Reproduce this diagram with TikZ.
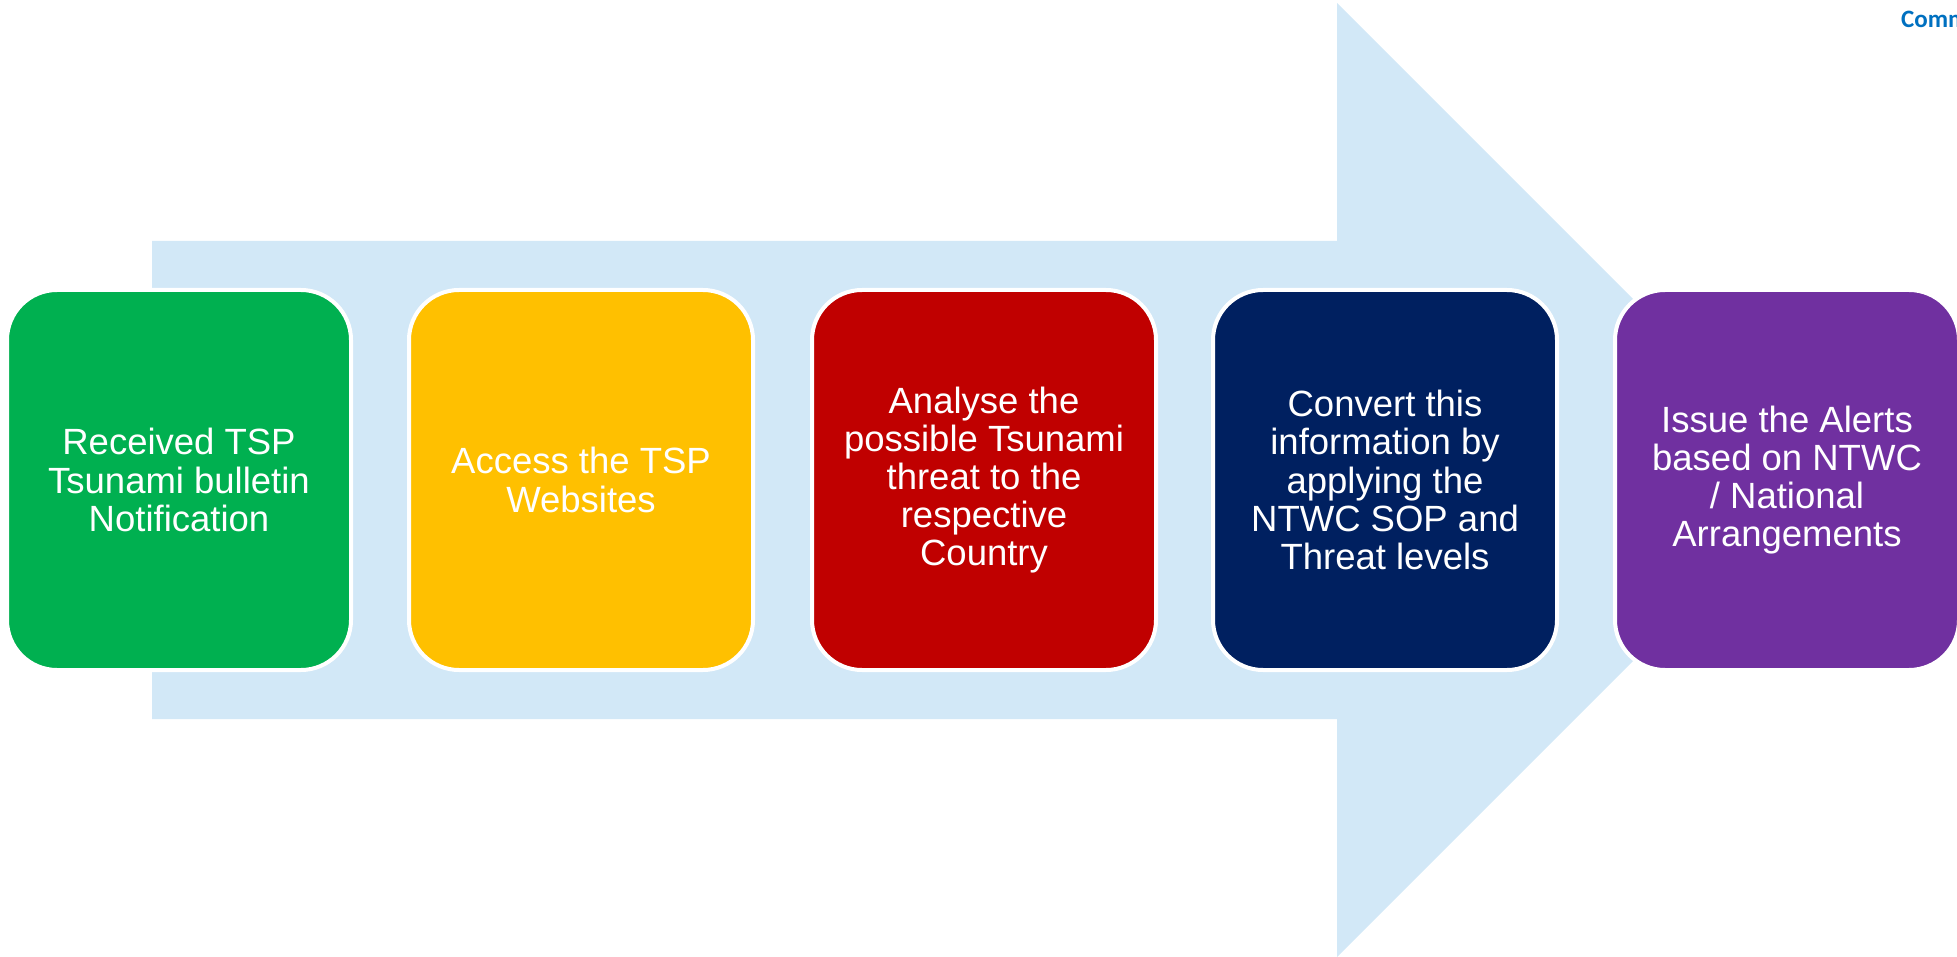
\documentclass[tikz,border=0pt]{standalone}
\usepackage{fontspec}
\setmainfont{Liberation Sans}
\newfontfamily\calib{Carlito}
\definecolor{arrowblue}{HTML}{D2E8F7}
\definecolor{cgreen}{HTML}{00B050}
\definecolor{cyellow}{HTML}{FFC000}
\definecolor{cred}{HTML}{C00000}
\definecolor{cnavy}{HTML}{002060}
\definecolor{cpurple}{HTML}{7030A0}
\definecolor{cblue}{HTML}{0070C0}
\begin{document}
\begin{tikzpicture}[x=1pt,y=-1pt,
  stepbox/.style={draw=white, line width=4pt, rounded corners=50pt,
    minimum width=344pt, minimum height=380pt, inner sep=0pt,
    align=center, text=white,
    font=\fontsize{36.5}{38.2}\selectfont}]
\useasboundingbox (0,0) rectangle (1957,957);
\clip (0,0) rectangle (1957,957);
\fill[arrowblue] (152,241) -- (1337,241) -- (1337,3) -- (1814,480)
  -- (1337,957) -- (1337,719) -- (152,719) -- cycle;
\node[stepbox, fill=cgreen] (s1) at (179,480) {Received TSP\\Tsunami bulletin\\Notification};
\node[stepbox, fill=cyellow] (s2) at (581,480) {Access the TSP\\Websites};
\node[stepbox, fill=cred] (s3) at (984,480) {Analyse the\\possible Tsunami\\threat to the\\respective\\Country};
\node[stepbox, fill=cnavy] (s4) at (1385,480) {Convert this\\information by\\applying the\\NTWC SOP and\\Threat levels};
\node[stepbox, fill=cpurple] (s5) at (1787,480) {Issue the Alerts\\based on NTWC\\/ National\\Arrangements};
\node[anchor=base west, inner sep=0pt, text=cblue, font=\calib\bfseries\fontsize{25}{29}\selectfont] (hdr) at (1901,28) {Comm};
\end{tikzpicture}
\end{document}
